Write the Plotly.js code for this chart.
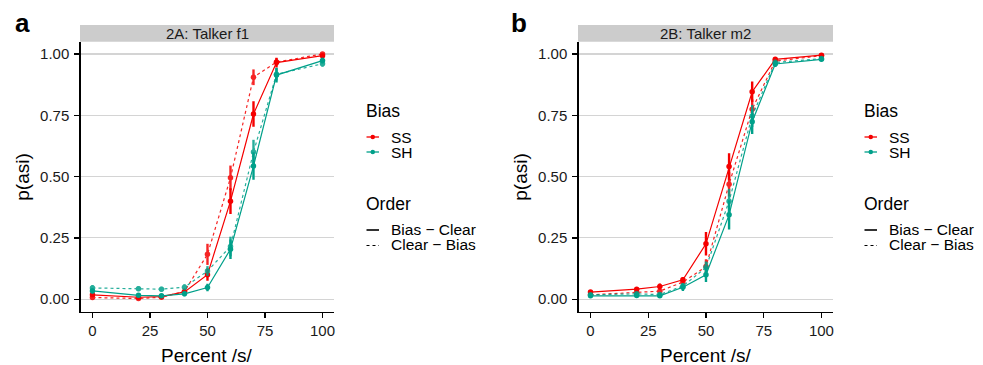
<!DOCTYPE html>
<html>
<head>
<meta charset="utf-8">
<script src="https://cdn.plot.ly/plotly-3.0.1.min.js"></script>
<style>
  html, body { margin: 0; padding: 0; background: #ffffff; }
  #chart { width: 983px; height: 365px; }
</style>
</head>
<body>
<div id="chart"></div>
<script>
// ---------------- data ----------------
const pct = [0, 20, 30, 40, 50, 60, 70, 80, 100];
const xTicks = [0, 25, 50, 75, 100];
const yTicks = [0, 0.25, 0.5, 0.75, 1];
const panelTitles = ["2A: Talker f1", "2B: Talker m2"];
const panelLetters = ["a", "b"];
const biasLevels = ["SS", "SH"];
const orderLevels = ["Bias \u2212 Clear", "Clear \u2212 Bias"];

// Panel A (Talker f1)
const a_SS_BC = [0.018, 0.008, 0.011, 0.030, 0.100, 0.400, 0.755, 0.965, 0.993];
const a_SS_CB = [0.007, 0.003, 0.008, 0.032, 0.183, 0.495, 0.905, 0.967, 1.000];
const a_SH_BC = [0.034, 0.016, 0.014, 0.022, 0.048, 0.204, 0.543, 0.914, 0.973];
const a_SH_CB = [0.046, 0.043, 0.041, 0.049, 0.115, 0.215, 0.600, 0.917, 0.960];
const a_SS_BC_err = [0.008, 0.005, 0.006, 0.010, 0.025, 0.052, 0.052, 0.020, 0.006];
const a_SS_CB_err = [0.005, 0.004, 0.005, 0.012, 0.043, 0.050, 0.032, 0.015, 0.004];
const a_SH_BC_err = [0.010, 0.008, 0.008, 0.010, 0.015, 0.040, 0.056, 0.030, 0.012];
const a_SH_CB_err = [0.012, 0.010, 0.010, 0.012, 0.020, 0.040, 0.050, 0.025, 0.012];

// Panel B (Talker m2)
const b_SS_BC = [0.029, 0.041, 0.052, 0.079, 0.226, 0.541, 0.846, 0.978, 0.995];
const b_SS_CB = [0.018, 0.027, 0.033, 0.070, 0.133, 0.469, 0.775, 0.971, 0.993];
const b_SH_BC = [0.014, 0.015, 0.014, 0.049, 0.100, 0.344, 0.724, 0.959, 0.978];
const b_SH_CB = [0.018, 0.022, 0.019, 0.054, 0.129, 0.400, 0.747, 0.965, 0.981];
const b_SS_BC_err = [0.008, 0.008, 0.012, 0.012, 0.048, 0.054, 0.042, 0.008, 0.004];
const b_SS_CB_err = [0.006, 0.006, 0.010, 0.012, 0.030, 0.050, 0.040, 0.010, 0.005];
const b_SH_BC_err = [0.006, 0.006, 0.006, 0.015, 0.030, 0.060, 0.050, 0.012, 0.008];
const b_SH_CB_err = [0.006, 0.006, 0.006, 0.012, 0.025, 0.050, 0.045, 0.012, 0.008];

// ---------------- style ----------------
const W = 983, H = 365;
const FONT = "Liberation Sans, Arial, Helvetica, sans-serif";
const biasColors = {SS: "#F50000", SH: "#00A08A"};
const orderDash = ["solid", "dot"];
const px = v => v / W;           // pixel -> paper x
const py = v => 1 - v / H;       // pixel -> paper y

const panels = [
  {xa: "x", ya: "y", left: 80.5, right: 334, letterX: 13.5, ytitleX: 23, legendX: 366,
   series: [[a_SS_BC, a_SS_BC_err, "SS", 0], [a_SS_CB, a_SS_CB_err, "SS", 1],
            [a_SH_BC, a_SH_BC_err, "SH", 0], [a_SH_CB, a_SH_CB_err, "SH", 1]]},
  {xa: "x2", ya: "y2", left: 578.5, right: 833, letterX: 509.5, ytitleX: 521, legendX: 864,
   series: [[b_SS_BC, b_SS_BC_err, "SS", 0], [b_SS_CB, b_SS_CB_err, "SS", 1],
            [b_SH_BC, b_SH_BC_err, "SH", 0], [b_SH_CB, b_SH_CB_err, "SH", 1]]}
];
const plotTop = 41.7, plotBottom = 311.5;

const traces = [];
const shapes = [];
const annotations = [];

panels.forEach((p, pi) => {
  p.series.forEach(([vals, errs, bias, oi]) => {
    traces.push({
      type: "scatter", mode: "lines+markers",
      x: pct, y: vals, xaxis: p.xa, yaxis: p.ya,
      line: {color: biasColors[bias], width: 1.2, dash: orderDash[oi]},
      marker: {color: biasColors[bias], size: 5.5},
      error_y: {type: "data", array: errs, visible: true, color: biasColors[bias],
                thickness: 2.4, width: 0},
      showlegend: false, hoverinfo: "x+y",
      opacity: oi === 1 ? 0.85 : 1
    });
  });

  // strip
  shapes.push({type: "rect", xref: "paper", yref: "paper",
    x0: px(p.left - 0.5), x1: px(p.right), y0: py(41.7), y1: py(25),
    fillcolor: "#CCCCCC", line: {width: 0}, layer: "below"});
  annotations.push({xref: "paper", yref: "paper", x: px((p.left + p.right) / 2), y: py(33.4),
    text: panelTitles[pi], showarrow: false, xanchor: "center", yanchor: "middle",
    font: {family: FONT, size: 15, color: "#1A1A1A"}, borderpad: 0});

  // panel letter
  annotations.push({xref: "paper", yref: "paper", x: px(p.letterX), y: py(23),
    text: "<b>" + panelLetters[pi] + "</b>", showarrow: false, xanchor: "left", yanchor: "middle",
    font: {family: FONT, size: 26, color: "#000000"}, borderpad: 0});

  // axis titles
  annotations.push({xref: "paper", yref: "paper", x: px(p.ytitleX), y: py(176.7),
    text: "p(asi)", showarrow: false, textangle: -90, xanchor: "center", yanchor: "middle",
    font: {family: FONT, size: 19, color: "#000000"}, borderpad: 0});
  annotations.push({xref: "paper", yref: "paper", x: px((p.left + p.right) / 2), y: py(355),
    text: "Percent /s/", showarrow: false, xanchor: "center", yanchor: "middle",
    font: {family: FONT, size: 19, color: "#000000"}, borderpad: 0});

  // legends
  const L = p.legendX;
  annotations.push({xref: "paper", yref: "paper", x: px(L - 1), y: py(111),
    text: "Bias", showarrow: false, xanchor: "left", yanchor: "middle",
    font: {family: FONT, size: 17.5, color: "#000000"}, borderpad: 0});
  const biasY = [137, 152];
  biasLevels.forEach((b, i) => {
    shapes.push({type: "line", xref: "paper", yref: "paper",
      x0: px(L + 0.5), x1: px(L + 13), y0: py(biasY[i]), y1: py(biasY[i]),
      line: {color: biasColors[b], width: 1.3}});
    shapes.push({type: "circle", xref: "paper", yref: "paper",
      x0: px(L + 4.5), x1: px(L + 9), y0: py(biasY[i] + 2.25), y1: py(biasY[i] - 2.25),
      fillcolor: biasColors[b], line: {width: 0}});
    annotations.push({xref: "paper", yref: "paper", x: px(L + 23.5), y: py(biasY[i]),
      text: b, showarrow: false, xanchor: "left", yanchor: "middle",
      font: {family: FONT, size: 15.5, color: "#000000"}, borderpad: 0});
  });
  annotations.push({xref: "paper", yref: "paper", x: px(L - 1), y: py(204),
    text: "Order", showarrow: false, xanchor: "left", yanchor: "middle",
    font: {family: FONT, size: 17.5, color: "#000000"}, borderpad: 0});
  const orderY = [229, 244.5];
  orderLevels.forEach((o, i) => {
    shapes.push({type: "line", xref: "paper", yref: "paper",
      x0: px(L + 0.5), x1: px(L + 13), y0: py(orderY[i] + 1), y1: py(orderY[i] + 1),
      line: {color: "#000000", width: i === 0 ? 1.6 : 1.2, dash: i === 0 ? "solid" : "dot"}});
    annotations.push({xref: "paper", yref: "paper", x: px(L + 23.5), y: py(orderY[i]),
      text: o, showarrow: false, xanchor: "left", yanchor: "middle",
      font: {family: FONT, size: 15.5, color: "#000000"}, borderpad: 0});
  });
});

function xAxis(p) {
  return {
    domain: [px(p.left), px(p.right)], range: [-5.2, 105], anchor: p.ya,
    showgrid: false, zeroline: false, showline: true, linecolor: "#000000", linewidth: 1.2,
    ticks: "outside", ticklen: 5, tickwidth: 1.2, tickcolor: "#000000",
    tickvals: xTicks, tickfont: {family: FONT, size: 15, color: "#1A1A1A"},
    ticklabelstandoff: 0, fixedrange: true
  };
}
function yAxis(p) {
  return {
    domain: [py(plotBottom), py(plotTop)], range: [-0.05, 1.05], anchor: p.xa,
    showgrid: true, gridcolor: "#D4D4D4", gridwidth: 1.1,
    zeroline: false, showline: true, linecolor: "#000000", linewidth: 1.2,
    ticks: "outside", ticklen: 5, tickwidth: 1.2, tickcolor: "#000000",
    tickvals: yTicks, tickformat: ".2f", tickfont: {family: FONT, size: 15, color: "#1A1A1A"},
    ticklabelstandoff: 2, fixedrange: true
  };
}

const layout = {
  width: W, height: H,
  margin: {l: 0, r: 0, t: 0, b: 0},
  paper_bgcolor: "#ffffff", plot_bgcolor: "#ffffff",
  showlegend: false,
  xaxis: xAxis(panels[0]), yaxis: yAxis(panels[0]),
  xaxis2: xAxis(panels[1]), yaxis2: yAxis(panels[1]),
  shapes: shapes, annotations: annotations,
  font: {family: FONT}
};

Plotly.newPlot("chart", traces, layout, {displayModeBar: false, staticPlot: true});
</script>
</body>
</html>
